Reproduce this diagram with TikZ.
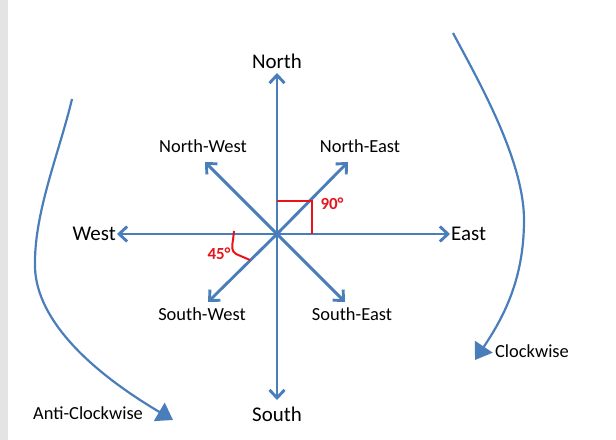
\documentclass[tikz,border=0pt]{standalone}
\usepackage{fontspec}
\setmainfont{Carlito}
\usetikzlibrary{arrows.meta}
\definecolor{dirblue}{HTML}{4A7EBB}
\definecolor{angred}{HTML}{E8141C}
\definecolor{stripgray}{HTML}{E4E4E4}
\begin{document}
\begin{tikzpicture}[x=1bp,y=-1bp,
  dirarrow/.style={draw=dirblue, line width=2.9bp, -{Straight Barb[length=8bp,width=15bp]}},
  turnarrow/.style={draw=dirblue, line width=2.2bp, -{Triangle[length=16bp,width=21bp]}},
  biglabel/.style={font=\fontsize{21}{24}\selectfont, text=black, inner sep=0pt},
  smalllabel/.style={font=\fontsize{18.5}{22}\selectfont, text=black, inner sep=0pt},
  anglemark/.style={draw=angred, line width=2bp},
  anglelabel/.style={text=angred, font=\bfseries\fontsize{17}{20}\selectfont, inner sep=0pt}]

\useasboundingbox (0,0) rectangle (616,440);
\fill[stripgray] (0,0) rectangle (8,440);

% centre and arrow tips
\coordinate (C) at (277,234);
\coordinate (tN) at (277,73);
\coordinate (tS) at (277,400);
\coordinate (tE) at (450,234);
\coordinate (tW) at (117,234);
\coordinate (tNE) at (348,162);
\coordinate (tNW) at (205,162);
\coordinate (tSE) at (345,302);
\coordinate (tSW) at (208,302);

\draw[dirarrow] (C) -- (tN);
\draw[dirarrow] (C) -- (tS);
\draw[dirarrow] (C) -- (tE);
\draw[dirarrow] (C) -- (tW);
\draw[dirarrow] (C) -- (tNE);
\draw[dirarrow] (C) -- (tNW);
\draw[dirarrow] (C) -- (tSE);
\draw[dirarrow] (C) -- (tSW);

% labels
\node[biglabel] (lN) at (277,61) {North};
\node[biglabel] (lS) at (277,414) {South};
\node[biglabel, anchor=east] (lW) at ([xshift=-1bp]tW) {West};
\node[biglabel, anchor=west] (lE) at ([xshift=1bp]tE) {East};
\node[smalllabel] (lNW) at (203,146) {North-West};
\node[smalllabel] (lNE) at (360,146) {North-East};
\node[smalllabel] (lSW) at (202,314) {South-West};
\node[smalllabel] (lSE) at (352,314) {South-East};

% right angle mark
\coordinate (r1) at (277,201);
\coordinate (r2) at (312,201);
\coordinate (r3) at (312,234);
\draw[anglemark] (r1) -- (r2) -- (r3);
\node[anglelabel] (l90) at (332,204) {90°};

% 45 degree mark
\draw[anglemark] (234,231) -- (233,240) .. controls (232,246) and (231,251) .. (236,254) -- (250,260);
\node[anglelabel] (l45) at (219,254) {45°};

% rotation arrows
\coordinate (acS) at (72,99);
\coordinate (acM) at (35,262);
\coordinate (acE) at (173,420);
\draw[turnarrow] (acS) .. controls (60,150) and (35,210) .. (acM)
                       .. controls (33,315) and (85,368) .. (acE);
\node[smalllabel] (lAC) at (88,413) {Anti-Clockwise};

\coordinate (cwS) at (453,33);
\coordinate (cwM) at (524,220);
\coordinate (cwE) at (475,360);
\draw[turnarrow] (cwS) .. controls (478,80) and (524,160) .. (cwM)
                       .. controls (524,280) and (503,318) .. (cwE);
\node[smalllabel] (lCW) at (532,351) {Clockwise};
\end{tikzpicture}
\end{document}
